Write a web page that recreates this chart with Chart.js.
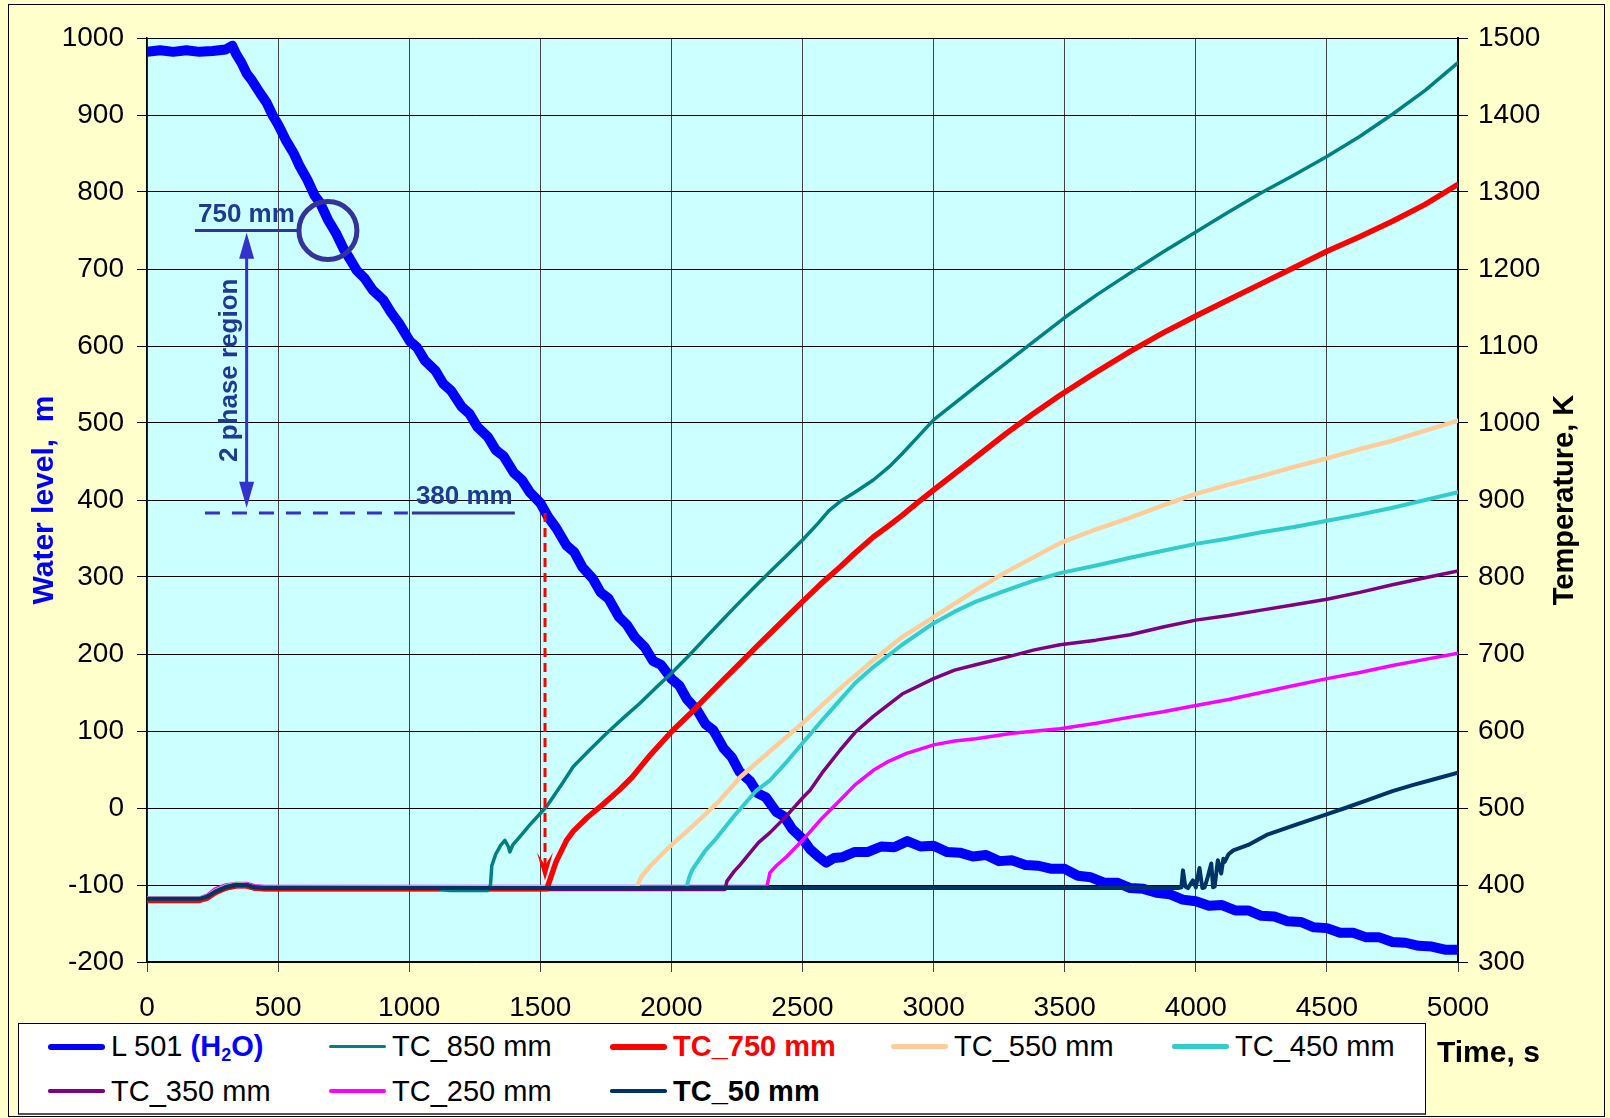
<!DOCTYPE html>
<html>
<head>
<meta charset="utf-8">
<title>L 501 water level and TC temperatures</title>
<script src="https://cdn.jsdelivr.net/npm/chart.js@4.4.0/dist/chart.umd.min.js"></script>
<style>
  html, body { margin: 0; padding: 0; background: #ffffcc; }
  #wrap { position: relative; width: 1610px; height: 1118px; overflow: hidden; background: #ffffcc;
          font-family: "Liberation Sans", Arial, sans-serif; }
  #frame { position: absolute; left: 8px; top: 4px; width: 1597px; height: 1113px; box-sizing: border-box; border: 1.5px solid #000; }
  #chart { position: absolute; left: 0; top: 0; }
  #legend { position: absolute; left: 18px; top: 1023px; width: 1408px; height: 92px; box-sizing: border-box;
            background: #fff; border: 1.5px solid #000; border-bottom: 2px solid #555; }
  .key { position: absolute; width: 57px; }
  .lbl { position: absolute; font-size: 29px; line-height: 29px; white-space: nowrap; color: #000; }
  .lbl sub { font-size: 0.62em; vertical-align: -0.3em; line-height: 0; }
  #timeLbl { position: absolute; left: 1437px; top: 1037px; font-size: 30px; line-height: 30px; font-weight: bold; }
</style>
</head>
<body>
<div id="wrap">
  <div id="frame"></div>
  <canvas id="chart" width="1610" height="1118"></canvas>
  <div id="legend"></div>
  <div id="legendItems"></div>
  <div id="timeLbl">Time, s</div>
</div>
<script>
// axis ranges (left: water level mm, right: temperature K)
const timeTicks = [0, 500, 1000, 1500, 2000, 2500, 3000, 3500, 4000, 4500, 5000];
const levelTicks = [-200, -100, 0, 100, 200, 300, 400, 500, 600, 700, 800, 900, 1000];
const tempTicks = [300, 400, 500, 600, 700, 800, 900, 1000, 1100, 1200, 1300, 1400, 1500];

// L 501 (H2O) water level, mm
const l501Time = [0, 50, 100, 150, 200, 250, 300, 325, 340, 360, 380, 400, 430, 456, 480, 501, 530, 560, 583, 610,
  640, 660, 690, 720, 750, 774, 800, 830, 860, 901, 930, 960, 1003, 1030, 1060, 1100, 1130, 1160, 1200, 1230,
  1260, 1300, 1330, 1360, 1400, 1430, 1460, 1500, 1530, 1560, 1600, 1630, 1660, 1700, 1730, 1760, 1800, 1830,
  1860, 1900, 1930, 1960, 2000, 2030, 2060, 2100, 2130, 2160, 2200, 2230, 2260, 2300, 2330, 2360, 2400, 2430,
  2460, 2500, 2530, 2560, 2590, 2620, 2650, 2700, 2750, 2800, 2850, 2900, 2950, 3000, 3050, 3100, 3150, 3200,
  3250, 3300, 3350, 3400, 3450, 3500, 3550, 3600, 3650, 3700, 3750, 3800, 3850, 3900, 3950, 4000, 4050, 4100,
  4150, 4200, 4250, 4300, 4350, 4400, 4450, 4500, 4550, 4600, 4650, 4700, 4750, 4800, 4850, 4900, 4950, 5000];
const l501Level = [982, 984, 982, 984, 982, 983, 985, 990, 979, 968, 954, 945, 929, 916, 899, 887, 867, 850, 833, 817,
  795, 786, 764, 747, 726, 713, 698, 688, 673, 660, 644, 630, 606, 598, 581, 568, 551, 542, 521, 512,
  495, 482, 465, 457, 435, 426, 410, 396, 378, 364, 341, 332, 313, 298, 280, 272, 248, 238,
  222, 208, 191, 186, 168, 159, 141, 126, 109, 101, 77, 66, 47, 35, 19, 14, -5, -11,
  -27, -40, -54, -63, -71, -65, -64, -57, -57, -50, -51, -43, -50, -49, -57, -58, -63, -61,
  -69, -68, -74, -75, -79, -79, -88, -90, -97, -97, -104, -105, -110, -112, -119, -121, -127, -126,
  -133, -133, -140, -141, -147, -148, -155, -156, -162, -162, -168, -168, -174, -175, -179, -180, -184, -184];

// thermocouple temperatures, K
const tc850Time = [0, 200, 230, 260, 300, 340, 380, 410, 450, 1100, 1150, 1300, 1310, 1315, 1330, 1350, 1365, 1378,
  1384, 1395, 1420, 1460, 1524, 1580, 1626, 1690, 1753, 1820, 1880, 1940, 2000, 2070, 2130, 2200, 2262, 2320,
  2380, 2440, 2500, 2560, 2600, 2643, 2700, 2770, 2830, 2880, 2940, 3000, 3100, 3200, 3250, 3375, 3500, 3625,
  3750, 3875, 4000, 4125, 4250, 4375, 4500, 4625, 4750, 4875, 5000];
const tc850Temp = [382, 382, 385, 392, 398, 401, 400, 397, 396, 396, 393, 393, 400, 425, 440, 452, 458, 450,
  443, 452, 462, 478, 502, 530, 554, 576, 597, 618, 636, 656, 675, 699, 721, 746, 768, 788,
  808, 828, 848, 870, 886, 898, 910, 926, 943, 960, 982, 1004, 1031, 1058, 1071, 1104, 1137, 1167,
  1195, 1222, 1248, 1274, 1299, 1322, 1346, 1372, 1401, 1432, 1468];

const tc750Time = [0, 200, 230, 260, 300, 340, 380, 410, 450, 1525, 1535, 1560, 1600, 1626, 1680, 1740, 1800, 1850,
  1920, 2000, 2070, 2130, 2200, 2262, 2320, 2380, 2440, 2500, 2570, 2643, 2700, 2770, 2830, 2880, 2940, 3000,
  3140, 3279, 3380, 3482, 3620, 3750, 3875, 4000, 4125, 4250, 4375, 4500, 4625, 4750, 4875, 5000];
const tc750Temp = [380, 380, 383, 390, 396, 399, 399, 396, 395, 395, 405, 430, 458, 470, 488, 505, 523, 540,
  569, 599, 622, 643, 667, 688, 708, 728, 748, 768, 791, 813, 831, 852, 867, 880, 897, 913,
  950, 987, 1012, 1036, 1066, 1093, 1117, 1139, 1160, 1181, 1202, 1223, 1242, 1262, 1284, 1310];

const tc550Time = [0, 200, 230, 260, 300, 340, 380, 410, 450, 1867, 1886, 1920, 1994, 2060, 2130, 2185, 2262, 2380,
  2500, 2643, 2770, 2880, 3000, 3161, 3279, 3482, 3620, 3750, 3875, 4000, 4125, 4250, 4375, 4500, 4625, 4750,
  4875, 5000];
const tc550Temp = [382, 382, 385, 392, 398, 401, 400, 397, 396, 397, 411, 425, 450, 470, 492, 510, 540, 575,
  610, 655, 692, 722, 748, 783, 807, 844, 862, 877, 893, 908, 920, 931, 943, 954, 966, 977,
  990, 1003];

const tc450Time = [0, 200, 230, 260, 300, 340, 380, 410, 450, 2058, 2068, 2080, 2096, 2130, 2170, 2240, 2325, 2376,
  2440, 2500, 2570, 2643, 2700, 2770, 2880, 3000, 3080, 3161, 3279, 3380, 3482, 3620, 3750, 3875, 4000, 4125,
  4250, 4375, 4500, 4625, 4750, 4875, 5000];
const tc450Temp = [382, 382, 385, 392, 398, 401, 400, 397, 396, 397, 410, 420, 428, 445, 460, 490, 523, 536,
  560, 584, 612, 640, 662, 683, 712, 740, 755, 768, 783, 795, 805, 815, 825, 834, 843, 850,
  858, 865, 873, 881, 890, 900, 910];

const tc350Time = [0, 200, 230, 260, 300, 340, 380, 410, 450, 2204, 2212, 2240, 2262, 2332, 2376, 2440, 2500, 2529,
  2580, 2643, 2700, 2770, 2880, 3000, 3080, 3161, 3279, 3380, 3482, 3620, 3750, 3875, 4000, 4125, 4250, 4375,
  4500, 4625, 4750, 4875, 5000];
const tc350Temp = [380, 380, 383, 390, 395, 398, 398, 395, 394, 394, 405, 418, 426, 455, 468, 490, 513, 523,
  548, 575, 598, 619, 648, 668, 679, 686, 696, 705, 712, 718, 725, 735, 744, 750, 757, 764,
  771, 780, 790, 799, 808];

const tc250Time = [0, 200, 230, 260, 300, 340, 380, 410, 450, 2364, 2372, 2376, 2400, 2440, 2500, 2567, 2643, 2700,
  2770, 2830, 2897, 3000, 3080, 3161, 3300, 3482, 3620, 3750, 3875, 4000, 4125, 4250, 4375, 4500, 4625, 4750,
  4875, 5000];
const tc250Temp = [383, 383, 387, 395, 400, 402, 402, 399, 398, 398, 410, 416, 425, 437, 458, 484, 510, 530,
  549, 561, 571, 582, 587, 590, 597, 603, 610, 618, 625, 633, 641, 650, 659, 668, 676, 685,
  693, 701];

const tc50Time = [0, 200, 230, 260, 300, 340, 380, 410, 450, 3933, 3945, 3951, 3960, 3970, 3989, 4000, 4014, 4025,
  4034, 4046, 4059, 4066, 4072, 4084, 4097, 4105, 4110, 4125, 4143, 4200, 4270, 4380, 4493, 4570, 4652, 4750,
  4830, 4905, 5000];
const tc50Temp = [382, 382, 385, 391, 397, 400, 400, 397, 396, 396, 397, 419, 398, 396, 406, 397, 422, 396,
  397, 411, 428, 397, 398, 432, 415, 434, 430, 440, 445, 452, 465, 478, 491, 500, 510, 522,
  530, 537, 546];

// annotation anchors (data units)
const ringTime = 690, ringLevel = 750;
const leaderStart = 183;
const spanTime = 380, spanTop = 747, spanBottom = 390;
const lowLevel = 383, dashStart = 221, dashEnd = 995, leaderEnd = 1403;
const dropTime = 1518, dropEnd = -94;

const pts = (t, v) => t.map((x, i) => ({ x: x, y: v[i] }));

const series = [
  { label: 'TC_50 mm', t: tc50Time, v: tc50Temp, color: '#003366', w: 4, order: 1 },
  { label: 'TC_850 mm', t: tc850Time, v: tc850Temp, color: '#008080', w: 3.5, order: 2 },
  { label: 'TC_750 mm', t: tc750Time, v: tc750Temp, color: '#ff0000', w: 5.5, order: 3 },
  { label: 'TC_550 mm', t: tc550Time, v: tc550Temp, color: '#ffcc99', w: 4.5, order: 4 },
  { label: 'TC_450 mm', t: tc450Time, v: tc450Temp, color: '#33cccc', w: 4, order: 5 },
  { label: 'TC_350 mm', t: tc350Time, v: tc350Temp, color: '#800080', w: 3.5, order: 6 },
  { label: 'TC_250 mm', t: tc250Time, v: tc250Temp, color: '#ff00ff', w: 3.5, order: 7 },
];

const datasets = [{
  label: 'L 501 (H2O)', data: pts(l501Time, l501Level), yAxisID: 'y', order: 9,
  borderColor: '#0000ff', borderWidth: 10,
}].concat(series.map(s => ({
  label: s.label, data: pts(s.t, s.v), yAxisID: 'y1', order: s.order,
  borderColor: s.color, borderWidth: s.w,
})));
datasets.forEach(d => {
  d.pointRadius = 0; d.tension = 0; d.fill = false;
  d.borderJoinStyle = 'round'; d.borderCapStyle = 'round';
});

// legend (html so the H2O subscript stays real text)
const legendItems = [
  { html: 'L 501 <b style="color:#0000ff">(H<sub>2</sub>O)</b>', color: '#0000ff', w: 6, col: 0, row: 0 },
  { html: 'TC_850 mm', color: '#008080', w: 3.5, col: 1, row: 0 },
  { html: '<b style="color:#ff0000">TC_750 mm</b>', color: '#ff0000', w: 6, col: 2, row: 0 },
  { html: 'TC_550 mm', color: '#ffcc99', w: 4.5, col: 3, row: 0 },
  { html: 'TC_450 mm', color: '#33cccc', w: 4.5, col: 4, row: 0 },
  { html: 'TC_350 mm', color: '#800080', w: 3.5, col: 0, row: 1 },
  { html: 'TC_250 mm', color: '#ff00ff', w: 4, col: 1, row: 1 },
  { html: '<b>TC_50 mm</b>', color: '#003366', w: 3.5, col: 2, row: 1 },
];
const keyX = [48, 329, 610, 891, 1172];
const rowY = [1046.5, 1091];
const box = document.getElementById('legendItems');
legendItems.forEach(it => {
  const k = document.createElement('div');
  k.className = 'key';
  k.style.left = keyX[it.col] + 'px';
  k.style.top = (rowY[it.row] - it.w / 2) + 'px';
  k.style.height = it.w + 'px';
  k.style.borderRadius = it.w / 2 + 'px';
  k.style.background = it.color;
  box.appendChild(k);
  const l = document.createElement('div');
  l.className = 'lbl';
  l.style.left = (keyX[it.col] + 63) + 'px';
  l.style.top = (rowY[it.row] - 14.5) + 'px';
  l.innerHTML = it.html;
  box.appendChild(l);
});

const FONT = '"Liberation Sans", Arial, sans-serif';
const annoText = '#1f3a93';

function arrowHead(ctx, x, y, dir, w, len) {
  ctx.beginPath();
  ctx.moveTo(x, y);
  ctx.lineTo(x - w / 2, y + dir * len);
  ctx.lineTo(x + w / 2, y + dir * len);
  ctx.closePath();
  ctx.fill();
}

const decor = {
  id: 'decor',
  beforeDraw(chart) {
    const { ctx, chartArea: a } = chart;
    ctx.save();
    ctx.fillStyle = '#ccffff';
    ctx.fillRect(a.left, a.top, a.right - a.left, a.bottom - a.top);
    ctx.restore();
  },
  afterDatasetsDraw(chart) {
    const { ctx, scales: { x, y } } = chart;
    ctx.save();

    // 750 mm leader + ring
    const ry = y.getPixelForValue(ringLevel);
    const rx = x.getPixelForValue(ringTime);
    ctx.strokeStyle = '#333399';
    ctx.lineWidth = 3;
    ctx.beginPath();
    ctx.moveTo(x.getPixelForValue(leaderStart), ry);
    ctx.lineTo(rx - 29, ry);
    ctx.stroke();
    ctx.lineWidth = 5;
    ctx.beginPath();
    ctx.arc(rx, ry, 29, 0, Math.PI * 2);
    ctx.stroke();

    // 380 mm dashed level + solid leader
    const ly = y.getPixelForValue(lowLevel);
    ctx.lineWidth = 3;
    ctx.strokeStyle = '#3333cc';
    ctx.setLineDash([15, 12]);
    ctx.beginPath();
    ctx.moveTo(x.getPixelForValue(dashStart), ly);
    ctx.lineTo(x.getPixelForValue(dashEnd), ly);
    ctx.stroke();
    ctx.setLineDash([]);
    ctx.strokeStyle = '#333399';
    ctx.beginPath();
    ctx.moveTo(x.getPixelForValue(dashEnd) + 4, ly);
    ctx.lineTo(x.getPixelForValue(leaderEnd), ly);
    ctx.stroke();

    // double arrow for the two-phase region
    const ax = x.getPixelForValue(spanTime);
    const at = y.getPixelForValue(spanTop), ab = y.getPixelForValue(spanBottom);
    ctx.strokeStyle = '#3333cc';
    ctx.fillStyle = '#3333cc';
    ctx.lineWidth = 3;
    ctx.beginPath();
    ctx.moveTo(ax, at + 20);
    ctx.lineTo(ax, ab - 20);
    ctx.stroke();
    arrowHead(ctx, ax, at, 1, 15, 26);
    arrowHead(ctx, ax, ab, -1, 15, 26);

    // red dashed drop to the TC_750 departure
    const dx = x.getPixelForValue(dropTime);
    const dTop = ly, dTip = y.getPixelForValue(dropEnd);
    ctx.strokeStyle = '#ff0000';
    ctx.fillStyle = '#ff0000';
    ctx.lineWidth = 3;
    ctx.setLineDash([9, 6]);
    ctx.beginPath();
    ctx.moveTo(dx, dTop);
    ctx.lineTo(dx, dTip - 14);
    ctx.stroke();
    ctx.setLineDash([]);
    ctx.beginPath();
    ctx.moveTo(dx, dTip);
    ctx.lineTo(dx - 8, dTip - 28);
    ctx.lineTo(dx, dTip - 15);
    ctx.lineTo(dx + 8, dTip - 28);
    ctx.closePath();
    ctx.fill();

    // labels
    ctx.fillStyle = annoText;
    ctx.font = 'bold 26px ' + FONT;
    ctx.textAlign = 'left';
    ctx.textBaseline = 'alphabetic';
    ctx.fillText('750 mm', x.getPixelForValue(leaderStart) + 3, ry - 9);
    ctx.fillText('380 mm', x.getPixelForValue(dashEnd) + 8, ly - 9);
    ctx.save();
    ctx.translate(ax - 10, (at + ab) / 2);
    ctx.rotate(-Math.PI / 2);
    ctx.textAlign = 'center';
    ctx.fillText('2 phase region', 0, 0);
    ctx.restore();

    ctx.restore();
  },
  afterDraw(chart) {
    const { ctx, chartArea: a } = chart;
    const cy = (a.top + a.bottom) / 2;
    ctx.save();
    ctx.textAlign = 'center';
    ctx.textBaseline = 'middle';
    ctx.font = 'bold 30px ' + FONT;
    ctx.fillStyle = '#0000ff';
    ctx.translate(45, cy);
    ctx.rotate(-Math.PI / 2);
    ctx.fillText('Water level,  m', 0, 0);
    ctx.restore();
    ctx.save();
    ctx.textAlign = 'center';
    ctx.textBaseline = 'middle';
    ctx.font = 'bold 29px ' + FONT;
    ctx.fillStyle = '#000';
    ctx.translate(1565, cy);
    ctx.rotate(-Math.PI / 2);
    ctx.fillText('Temperature, K', 0, 0);
    ctx.restore();
  }
};

const tickFont = { family: FONT, size: 28 };
const plain = v => String(v);

new Chart(document.getElementById('chart'), {
  type: 'line',
  data: { datasets: datasets },
  options: {
    responsive: false,
    devicePixelRatio: 1,
    animation: false,
    events: [],
    layout: { padding: { top: 38, left: 0, right: 0, bottom: 0 } },
    plugins: { legend: { display: false }, tooltip: { enabled: false } },
    scales: {
      x: {
        type: 'linear', min: timeTicks[0], max: timeTicks[timeTicks.length - 1],
        afterBuildTicks: s => { s.ticks = timeTicks.map(v => ({ value: v })); },
        afterFit: s => { s.height = 156; },
        ticks: { font: tickFont, color: '#000', padding: 19, maxRotation: 0, callback: plain },
        grid: { color: '#444', lineWidth: 1, tickLength: 10, tickColor: '#444' },
        border: { color: '#000', width: 1.5 },
      },
      y: {
        type: 'linear', position: 'left', min: levelTicks[0], max: levelTicks[levelTicks.length - 1],
        afterBuildTicks: s => { s.ticks = levelTicks.map(v => ({ value: v })); },
        afterFit: s => { s.width = 147; },
        ticks: { font: tickFont, color: '#000', padding: 13, callback: plain },
        grid: { color: '#000', lineWidth: 1, tickLength: 10, tickColor: '#000' },
        border: { color: '#000', width: 1.5 },
      },
      y1: {
        type: 'linear', position: 'right', min: tempTicks[0], max: tempTicks[tempTicks.length - 1],
        afterBuildTicks: s => { s.ticks = tempTicks.map(v => ({ value: v })); },
        afterFit: s => { s.width = 152; },
        ticks: { font: tickFont, color: '#000', padding: 10, callback: plain },
        grid: { drawOnChartArea: false, color: '#000', tickLength: 10, tickColor: '#000' },
        border: { color: '#000', width: 2 },
      },
    },
  },
  plugins: [decor],
});
</script>
</body>
</html>
